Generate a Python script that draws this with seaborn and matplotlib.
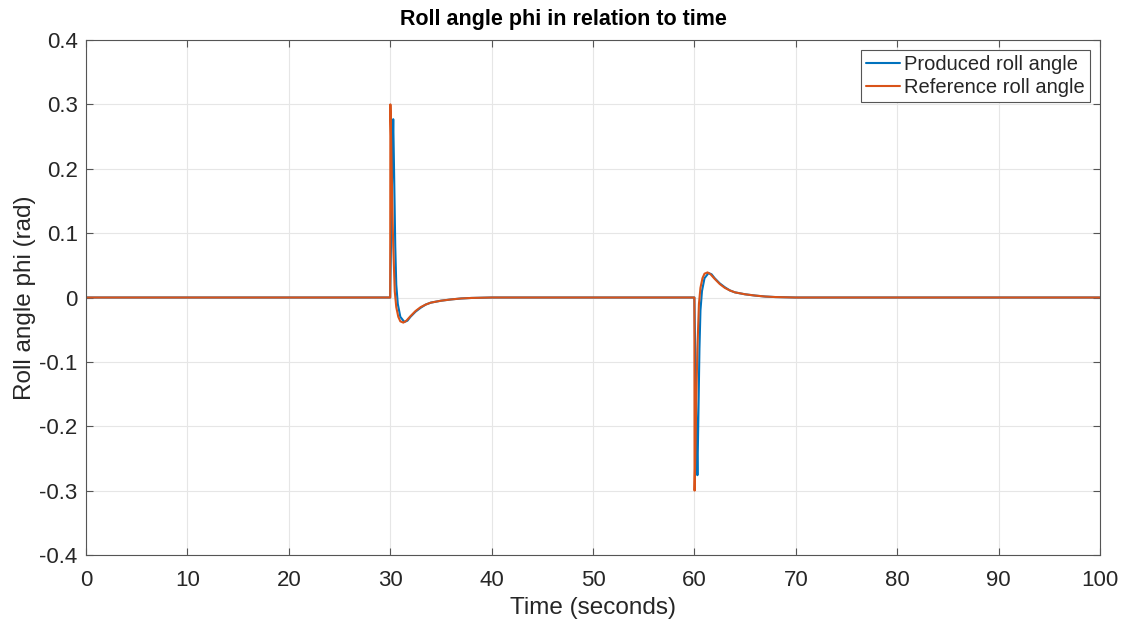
import numpy as np
import pandas as pd
import matplotlib
matplotlib.use("Agg")
import matplotlib.pyplot as plt
import seaborn as sns

# Sampled time instants (seconds) and roll angle (rad) for each signal
ref_time = [0, 30.0, 30.02, 30.1, 30.2, 30.3, 30.45, 30.6, 30.8, 31.0, 31.3, 31.6,
            32.0, 32.5, 33.0, 33.5, 34.0, 35.0, 36.0, 37.0, 38.0, 40.0,
            60.0, 60.02, 60.1, 60.2, 60.3, 60.45, 60.6, 60.8, 61.0, 61.3, 61.6,
            62.0, 62.5, 63.0, 63.5, 64.0, 65.0, 66.0, 67.0, 68.0, 70.0, 100.0]
ref_phi = [0, 0, 0.300, 0.240, 0.150, 0.080, 0.010, -0.015, -0.030, -0.037, -0.039, -0.036,
           -0.029, -0.021, -0.015, -0.011, -0.008, -0.005, -0.003, -0.0015, -0.0007, 0,
           0, -0.300, -0.240, -0.150, -0.080, -0.010, 0.015, 0.030, 0.037, 0.039, 0.036,
           0.029, 0.021, 0.015, 0.011, 0.008, 0.005, 0.003, 0.0015, 0.0007, 0, 0]

prod_time = [0, 30.0, 30.1, 30.2, 30.3, 30.4, 30.5, 30.6, 30.75, 31.0, 31.4, 31.7,
             32.0, 32.5, 33.0, 33.5, 34.0, 35.0, 36.0, 37.0, 38.0, 40.0,
             60.0, 60.1, 60.2, 60.3, 60.4, 60.5, 60.6, 60.75, 61.0, 61.4, 61.7,
             62.0, 62.5, 63.0, 63.5, 64.0, 65.0, 66.0, 67.0, 68.0, 70.0, 100.0]
prod_phi = [0, 0, 0.100, 0.200, 0.277, 0.180, 0.080, 0.020, -0.010, -0.030, -0.038, -0.036,
            -0.030, -0.022, -0.016, -0.011, -0.008, -0.005, -0.003, -0.0015, -0.0007, 0,
            0, -0.100, -0.200, -0.276, -0.180, -0.080, -0.020, 0.010, 0.030, 0.038, 0.036,
            0.030, 0.022, 0.016, 0.011, 0.008, 0.005, 0.003, 0.0015, 0.0007, 0, 0]

x_ticks = [0, 10, 20, 30, 40, 50, 60, 70, 80, 90, 100]
y_ticks = [-0.4, -0.3, -0.2, -0.1, 0, 0.1, 0.2, 0.3, 0.4]
y_tick_labels = ["-0.4", "-0.3", "-0.2", "-0.1", "0", "0.1", "0.2", "0.3", "0.4"]

sns.set_style("whitegrid")
plt.rcParams["font.family"] = ["Liberation Sans", "DejaVu Sans"]
plt.rcParams["axes.unicode_minus"] = False

fig = plt.figure(figsize=(11.27, 6.26), dpi=100)
ax = fig.add_axes([0.0763, 0.1134, 0.8997, 0.8227])

blue = "#0072BD"
orange = "#D95319"
text_col = "#262626"
axis_col = "#555555"

sns.lineplot(x=prod_time, y=prod_phi, ax=ax, color=blue, linewidth=1.5,
             label="Produced roll angle", sort=False, estimator=None)
sns.lineplot(x=ref_time, y=ref_phi, ax=ax, color=orange, linewidth=1.5,
             label="Reference roll angle", sort=False, estimator=None)

ax.set_xlim(0, 100)
ax.set_ylim(-0.4, 0.4)
ax.set_xticks(x_ticks)
ax.set_xticklabels([str(t) for t in x_ticks])
ax.set_yticks(y_ticks)
ax.set_yticklabels(y_tick_labels)

ax.grid(True, color="#e6e6e6", linewidth=0.8)
for side in ["left", "right", "top", "bottom"]:
    ax.spines[side].set_visible(True)
    ax.spines[side].set_color(axis_col)
    ax.spines[side].set_linewidth(0.8)
ax.tick_params(axis="both", which="both", direction="in", length=5,
               color=axis_col, labelsize=16, labelcolor=text_col,
               top=True, right=True, bottom=True, left=True)
ax.tick_params(axis="x", pad=11)
ax.tick_params(axis="y", pad=6)

ax.set_xlabel("Time (seconds)", fontsize=17.5, color=text_col, labelpad=4)
ax.set_ylabel("Roll angle phi (rad)", fontsize=17.5, color=text_col, labelpad=2.5)
# title centred on the whole figure rather than on the axes
ax.set_title("Roll angle phi in relation to time", fontsize=15.5, fontweight="bold",
             color="black", pad=11, x=0.471)

leg = ax.legend(loc="upper right", fontsize=14.5, frameon=True, fancybox=False,
                edgecolor=axis_col, handlelength=1.7, handletextpad=0.2,
                borderpad=0.25, labelspacing=0.2, borderaxespad=0.5)
leg.get_frame().set_linewidth(0.8)
leg.get_frame().set_alpha(1)
for t in leg.get_texts():
    t.set_color(text_col)

fig.savefig("out.png", dpi=100)
